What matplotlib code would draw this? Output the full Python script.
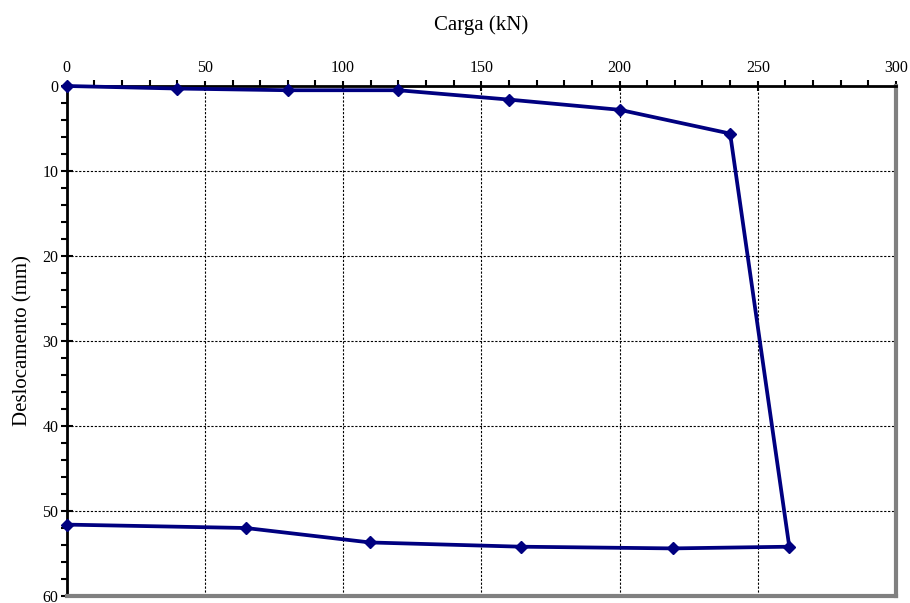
import matplotlib
matplotlib.use("Agg")
import matplotlib.pyplot as plt
from matplotlib.ticker import MultipleLocator

carga = [0, 40, 80, 120, 160, 200, 240, 261.4, 219.2, 164.4, 109.7, 64.8, 0]
desloc = [0, 0.3, 0.5, 0.5, 1.6, 2.8, 5.6, 54.2, 54.4, 54.2, 53.7, 52.0, 51.6]

plt.rcParams['font.family'] = ['Liberation Serif', 'DejaVu Serif']

fig = plt.figure(figsize=(9.1, 6.03), dpi=100)
ax = fig.add_axes([0.0733, 0.0116, 0.9113, 0.8458])

ax.plot(carga, desloc, color='#000080', lw=2.7, marker='D', ms=6.5,
        markerfacecolor='#000080', markeredgecolor='#000080', zorder=5, clip_on=False)

ax.set_xlim(0, 300)
ax.set_ylim(60, 0)
ax.xaxis.set_major_locator(MultipleLocator(50))
ax.xaxis.set_minor_locator(MultipleLocator(10))
ax.yaxis.set_major_locator(MultipleLocator(10))
ax.yaxis.set_minor_locator(MultipleLocator(2))
ax.xaxis.tick_top()
ax.xaxis.set_label_position('top')

ax.tick_params(axis='x', which='both', top=True, bottom=False,
               labelsize=11.5, width=1.5, color='black')
ax.tick_params(axis='x', which='major', direction='inout', length=7, pad=4)
ax.tick_params(axis='x', which='minor', direction='out', length=4)
ax.tick_params(axis='y', which='both', left=True, right=False,
               labelsize=11.5, width=1.5, color='black')
ax.tick_params(axis='y', which='major', direction='inout', length=8, pad=2)
ax.tick_params(axis='y', which='minor', direction='out', length=4)

ax.grid(True, which='major', color='black', linestyle=(0, (2, 1.5)), lw=0.8)
ax.set_axisbelow(True)

ax.spines['top'].set_color('black')
ax.spines['top'].set_linewidth(2)
ax.spines['left'].set_color('black')
ax.spines['left'].set_linewidth(2)
ax.spines['right'].set_color('#808080')
ax.spines['right'].set_linewidth(3)
ax.spines['bottom'].set_color('#808080')
ax.spines['bottom'].set_linewidth(3)

ax.set_xlabel('Carga (kN)', fontsize=15, labelpad=21)
ax.set_ylabel('Deslocamento (mm)', fontsize=15, labelpad=7)

fig.savefig('out.png', dpi=100)
